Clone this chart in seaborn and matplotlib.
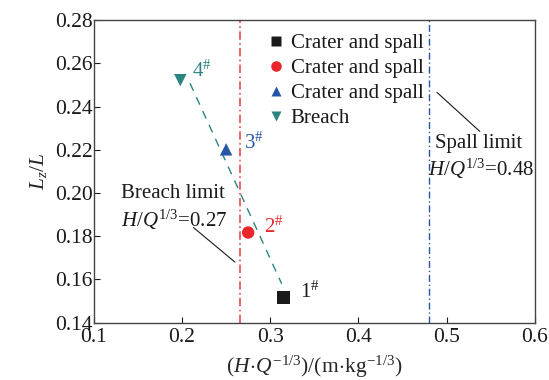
import matplotlib
matplotlib.use("Agg")
import matplotlib.pyplot as plt
import seaborn as sns
import pandas as pd

# data
ids = ["1", "2", "3", "4"]
x_vals = [0.315, 0.275, 0.250, 0.198]
y_vals = [0.1516, 0.1817, 0.2202, 0.2522]
modes = ["Crater and spall", "Crater and spall ", "Crater and spall  ", "Breach"]
colors = ["#1a1a1a", "#e8262b", "#2756a6", "#2a8580"]
markers = ["s", "o", "^", "v"]
fit_x = [0.209, 0.313]
fit_y = [0.2508, 0.158]
breach_limit = 0.2655
spall_limit = 0.48
x_ticks = [0.1, 0.2, 0.3, 0.4, 0.5, 0.6]
y_ticks = [0.14, 0.16, 0.18, 0.20, 0.22, 0.24, 0.26, 0.28]

sns.set_theme(style="ticks")
plt.rcParams["font.family"] = ["Liberation Serif", "DejaVu Serif"]
plt.rcParams["mathtext.fontset"] = "custom"
plt.rcParams["mathtext.rm"] = "Liberation Serif"
plt.rcParams["mathtext.it"] = "Liberation Serif:italic"
plt.rcParams["mathtext.bf"] = "Liberation Serif:bold"

df = pd.DataFrame({"x": x_vals, "y": y_vals, "mode": modes, "id": ids})

fig = plt.figure(figsize=(5.49, 3.80), dpi=100)
ax = fig.add_axes([0.171, 0.151, 0.803, 0.796])

sns.lineplot(x=fit_x, y=fit_y, ax=ax, color="#2a8580", lw=1.0,
             linestyle=(0, (6, 5)), legend=False)
ax.axvline(breach_limit, color="#ec4a4f", lw=1.2, linestyle=(0, (5, 2, 1, 2)))
ax.axvline(spall_limit, color="#2756a6", lw=1.0, linestyle=(0, (5, 2, 1, 2)))

sns.scatterplot(data=df, x="x", y="y", hue="mode", style="mode",
                palette=dict(zip(modes, colors)), markers=dict(zip(modes, markers)),
                s=80, edgecolor="none", ax=ax, zorder=5)

offsets = [(0.019, 0.0025), (0.018, 0.0025), (0.020, 0.003), (0.0135, 0.004)]
for xi, yi, lab, c, (dx, dy) in zip(x_vals, y_vals, ids, colors, offsets):
    ax.text(xi + dx, yi + dy, lab + r"$^{\#}$", color=c, fontsize=15,
            va="center", ha="left")

leg = ax.legend(loc="upper left", bbox_to_anchor=(0.347, 1.005), frameon=False,
                fontsize=15, handletextpad=0.0, labelspacing=0.26,
                borderaxespad=0.3, markerscale=0.85, handlelength=1.4)
labels_show = ["Crater and spall", "Crater and spall", "Crater and spall", "Breach"]
for t, s in zip(leg.get_texts(), labels_show):
    t.set_text(s)
    t.set_color("#1a1a1a")

ax.text(0.131, 0.1998, "Breach limit", fontsize=15, ha="left", va="center", color="#1a1a1a")
ax.text(0.131, 0.1875, r"$H/Q^{1/3}$=0.27", fontsize=15, ha="left", va="center", color="#1a1a1a")
ax.plot([0.213, 0.260], [0.184, 0.168], color="#1a1a1a", lw=0.8)

ax.text(0.4866, 0.223, "Spall limit", fontsize=15, ha="left", va="center", color="#1a1a1a")
ax.text(0.4787, 0.2112, r"$H/Q^{1/3}$=0.48", fontsize=15, ha="left", va="center", color="#1a1a1a")
ax.plot([0.489, 0.5377], [0.2466, 0.2285], color="#1a1a1a", lw=0.8)

ax.set_xlim(0.1, 0.6)
ax.set_ylim(0.14, 0.28)
ax.set_xticks(x_ticks)
ax.set_xticklabels([f"{v:.1f}" for v in x_ticks])
ax.set_yticks(y_ticks)
ax.set_yticklabels([f"{v:.2f}" for v in y_ticks])
ax.tick_params(direction="in", length=4, width=0.8, labelsize=15.5, colors="#1a1a1a",
               top=False, right=False, pad=1)
ax.tick_params(axis="x", pad=4)
for sp in ax.spines.values():
    sp.set_visible(True)
    sp.set_color("#444444")
    sp.set_linewidth(1.0)

ax.set_xlabel(r"$(H\!\cdot\!Q^{-1/3})/(\mathrm{m\!\cdot\!kg}^{-1/3})$", fontsize=15.5, labelpad=5)
ax.set_ylabel(r"$L_z/L$", fontsize=15.5, labelpad=4)

fig.savefig("out.png", dpi=100)
